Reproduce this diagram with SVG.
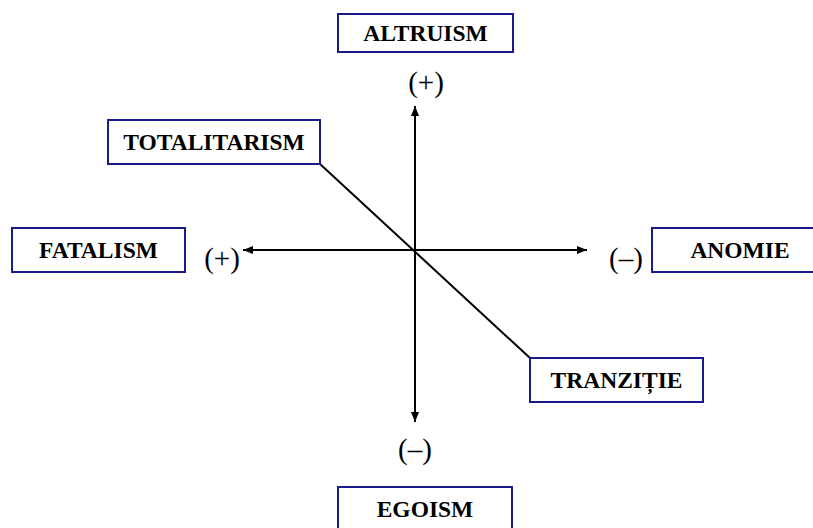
<svg xmlns="http://www.w3.org/2000/svg" width="813" height="528" viewBox="0 0 813 528">
<defs>
<style>
.box{fill:#fff;stroke:#1a1a8c;stroke-width:2}
.lbl{font-family:"Liberation Serif","Times New Roman",serif;font-weight:bold;font-size:23.5px;text-anchor:middle;fill:#000}
.sign{font-family:"Liberation Serif","Times New Roman",serif;font-size:29px;text-anchor:middle;fill:#000}
.ln{stroke:#000;stroke-width:2;fill:none}
</style>
<marker id="arr" viewBox="0 0 10 8" refX="10" refY="4" markerWidth="10" markerHeight="8" markerUnits="userSpaceOnUse" orient="auto">
<path d="M0,0 L10,4 L0,8 z" fill="#000"/>
</marker>
</defs>
<rect width="813" height="528" fill="#fff"/>
<g id="connectors">
<line class="ln" x1="415" y1="250" x2="415" y2="106" marker-end="url(#arr)"/>
<line class="ln" x1="415" y1="250" x2="415" y2="422" marker-end="url(#arr)"/>
<line class="ln" x1="415" y1="250" x2="243" y2="250" marker-end="url(#arr)"/>
<line class="ln" x1="415" y1="250" x2="587" y2="250" marker-end="url(#arr)"/>
<line class="ln" x1="320" y1="164" x2="530" y2="358"/>
</g>
<g id="altruism"><rect class="box" x="338" y="14" width="175" height="38"/><text class="lbl" x="425.5" y="41">ALTRUISM</text></g>
<g id="totalitarism"><rect class="box" x="108" y="120" width="212" height="44"/><text class="lbl" x="214" y="150">TOTALITARISM</text></g>
<g id="fatalism"><rect class="box" x="12" y="228" width="173" height="44"/><text class="lbl" x="98.5" y="258">FATALISM</text></g>
<g id="anomie"><rect class="box" x="652" y="228" width="170" height="44"/><text class="lbl" x="740" y="258">ANOMIE</text></g>
<g id="tranzitie"><rect class="box" x="530" y="358" width="173" height="44"/><text class="lbl" x="616.5" y="388">TRANZIȚIE</text></g>
<g id="egoism"><rect class="box" x="338" y="487" width="174" height="50"/><text class="lbl" x="425" y="517">EGOISM</text></g>
<g id="signs">
<text class="sign" x="426" y="92">(+)</text>
<text class="sign" x="222" y="268">(+)</text>
<text class="sign" x="626" y="268">(–)</text>
<text class="sign" x="415" y="459">(–)</text>
</g>
</svg>
